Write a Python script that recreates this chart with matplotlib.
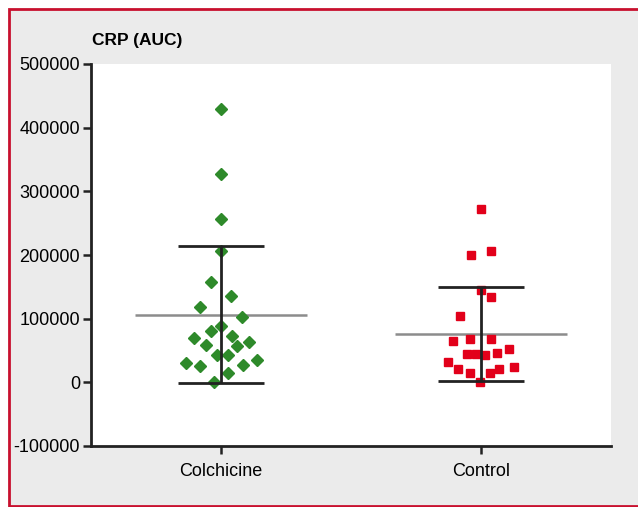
import matplotlib
matplotlib.use("Agg")
import matplotlib.pyplot as plt
from matplotlib.patches import Rectangle

plt.rcParams['font.family'] = ['Liberation Sans', 'DejaVu Sans']

groups = ["Colchicine", "Control"]

colch = [429000, 328000, 256500, 205800, 157800, 135300, 118000, 103000,
         88200, 80400, 70000, 72600, 58500, 57000, 63200, 43400, 43400,
         35600, 29800, 25600, 27200, 14100, 1100]
colch_jit = [0, 0, 0, 0, -0.040, 0.040, -0.080, 0.081, 0, -0.039, -0.105,
             0.041, -0.058, 0.063, 0.109, -0.017, 0.026, 0.140, -0.135,
             -0.081, 0.086, 0.028, -0.026]

ctrl = [272300, 200200, 205800, 145300, 133700, 104500, 64300, 67900, 67400,
        51700, 45000, 45000, 42300, 46500, 31800, 21500, 14100, 14100, 20900,
        24000, 0]
ctrl_jit = [0, -0.040, 0.037, 0, 0.037, -0.082, -0.108, -0.041, 0.040, 0.108,
            -0.055, -0.018, 0.014, 0.061, -0.127, -0.089, -0.042, 0.036,
            0.069, 0.125, -0.003]

means = [106000, 76500]
sds = [107500, 74000]

yticks = [-100000, 0, 100000, 200000, 300000, 400000, 500000]

green = "#2e8a2a"
red = "#e2001a"
dark = "#222222"

fig = plt.figure(figsize=(6.38, 5.07), dpi=100)
fig.patch.set_facecolor("white")
# grey panel with red frame, behind the axes
panel = Rectangle((8.5/638, 1/507), 1.0, 1 - 9.5/507, transform=fig.transFigure,
                  facecolor="#ebebeb", edgecolor="#c8102e", lw=2, zorder=-10)
fig.patches.append(panel)

ax = fig.add_axes([91/638, 61/507, 520/638, 382/507])
ax.set_facecolor("white")

ax.plot([0 + j for j in colch_jit], colch, 'D', color=green, ms=6.3, mec=green, zorder=3)
ax.plot([1 + j for j in ctrl_jit], ctrl, 's', color=red, ms=6.4, mec=red, zorder=3)

for i in range(2):
    ax.hlines(means[i], i - 0.33, i + 0.33, color="#8c8c8c", lw=1.8, zorder=2)
    ax.vlines(i, means[i] - sds[i], means[i] + sds[i], color=dark, lw=2, zorder=4)
    ax.hlines([means[i] - sds[i], means[i] + sds[i]], i - 0.165, i + 0.165, color=dark, lw=2, zorder=4)

ax.set_xlim(-0.5, 1.5)
ax.set_ylim(-100000, 500000)
ax.set_yticks(yticks)
ax.set_yticklabels([str(v) for v in yticks])
ax.set_xticks([0, 1])
ax.set_xticklabels(groups)
ax.tick_params(axis='both', labelsize=13, color=dark, width=1.8, length=6, direction='out', pad=2)
ax.tick_params(axis='x', pad=6)

for s in ['top', 'right']:
    ax.spines[s].set_visible(False)
for s in ['left', 'bottom']:
    ax.spines[s].set_color(dark)
    ax.spines[s].set_linewidth(2)

fig.text(92/638, 1 - 40/507, "CRP (AUC)", fontsize=12.5, fontweight='bold', va='center', ha='left')

plt.savefig("out.png", dpi=100)
